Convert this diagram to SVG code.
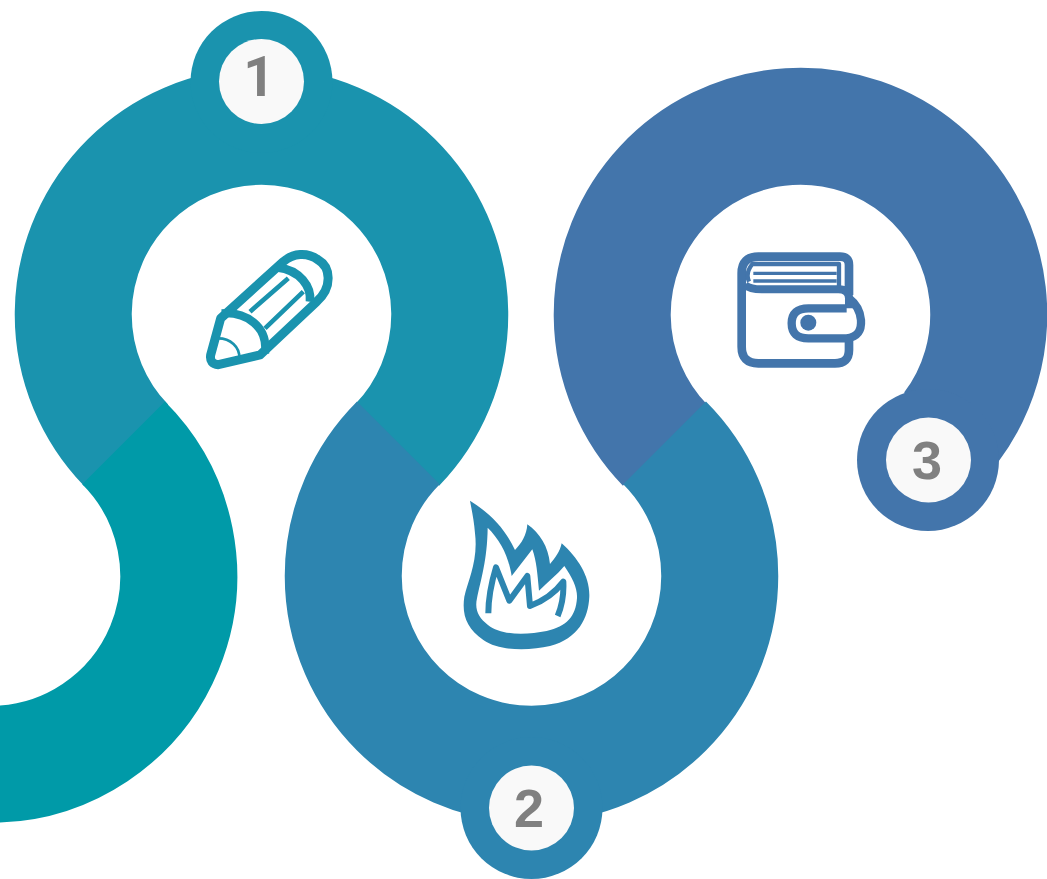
<svg xmlns="http://www.w3.org/2000/svg" width="1047" height="879" viewBox="0 0 1047 879">
<style>
.band{fill:none;stroke-width:117}
.hole{fill:#f9f9f9}
.num{font-family:"Liberation Sans",Arial,sans-serif;font-weight:700;font-size:54px;fill:#808080;text-anchor:middle}
.one{font-family:Roboto,"Liberation Sans",Arial,sans-serif;font-size:55px}
.ln{fill:none;stroke-linecap:butt;stroke-linejoin:round}
</style>
<rect width="1047" height="879" fill="#fff"/>
<g id="connectors">
<path class="band" stroke="#1a93ae" d="M126 445.200A188.250 188.250 0 1 1 397 445.200"/>
<path class="band" stroke="#009aa8" d="M123.600 442.900A188.250 188.250 0 0 1 -9.500 764.250"/>
<path class="band" stroke="#4375ab" d="M665 445.200A188.250 188.250 0 1 1 950.800 427.800"/>
<path class="band" stroke="#2d85b0" d="M398.400 442.900A188.250 188.250 0 1 0 664.600 442.900"/>
</g>
<g id="node-1">
<circle cx="261.500" cy="82" r="71" fill="#1a93ae"/>
<circle class="hole" cx="261.500" cy="81.500" r="42.500"/>
<text class="num one" x="259" y="96">1</text>
<g transform="translate(190 230) scale(.3333)" stroke="#1a93ae" class="ln">
<path stroke-width="27" d="M92 265L62 375Q58 402 85 404L210 375L380 215C430 170 420 110 385 90C350 65 310 70 280 95Z"/>
<path stroke-width="25" d="M95 250C170 245 235 290 225 370"/>
<path stroke-width="26" d="M262 112C330 120 365 170 360 215"/>
<path stroke-width="14" d="M180 245L295 145M225 295L340 185"/>
<path stroke-width="8" d="M85 325C120 325 150 350 148 385"/>
</g>
</g>
<g id="node-2">
<circle cx="531.500" cy="808" r="71" fill="#2d85b0"/>
<circle class="hole" cx="531.500" cy="808" r="42.500"/>
<text class="num" x="529" y="827">2</text>
<g transform="translate(450 490) scale(.3333)">
<path fill="#2d85b0" fill-rule="evenodd" d="M60 32C120 70 165 115 195 180C215 160 230 135 232 103C270 130 295 170 300 222C315 205 330 185 335 160C385 205 420 260 418 320C415 385 385 445 300 468C240 482 150 485 100 450C50 415 35 375 43 320C55 270 85 210 75 130C72 90 65 60 60 32ZM113 113C112 210 92 270 81 325C73 360 87 385 113 404C155 438 230 435 290 423C350 410 377 380 381 325C383 295 368 265 343 228C320 255 295 275 267 302C262 250 260 215 247 178L185 258C175 195 150 150 113 113Z"/>
<path class="ln" stroke="#2d85b0" stroke-width="18" d="M115 370C115 320 125 275 138 232L178 332L232 258L240 348C275 335 310 315 340 275C342 315 335 350 323 378"/>
</g>
</g>
<g id="node-3">
<circle cx="928" cy="460" r="71" fill="#4375ab"/>
<circle class="hole" cx="928.500" cy="460" r="42.500"/>
<text class="num" x="927" y="479">3</text>
<g transform="translate(725 240) scale(.3333)" stroke="#4375ab" class="ln">
<path stroke-width="26" d="M372 165V75Q372 50 345 50H100Q50 50 50 100V320Q50 370 100 370H330Q372 370 372 330V290"/>
<path stroke-width="24" d="M60 135Q75 148 110 148H340Q372 148 372 175V205"/>
<path stroke-width="13" d="M72 125Q60 100 82 72H342V142"/>
<path stroke-width="10" d="M85 100H335M85 123H335"/>
<path stroke-width="25" d="M365 205H250Q200 205 200 250Q200 295 250 295H365C400 290 410 270 408 240C405 205 385 185 372 175"/>
<circle cx="250" cy="248" r="24" fill="#4375ab" stroke="none"/>
</g>
</g>
</svg>
